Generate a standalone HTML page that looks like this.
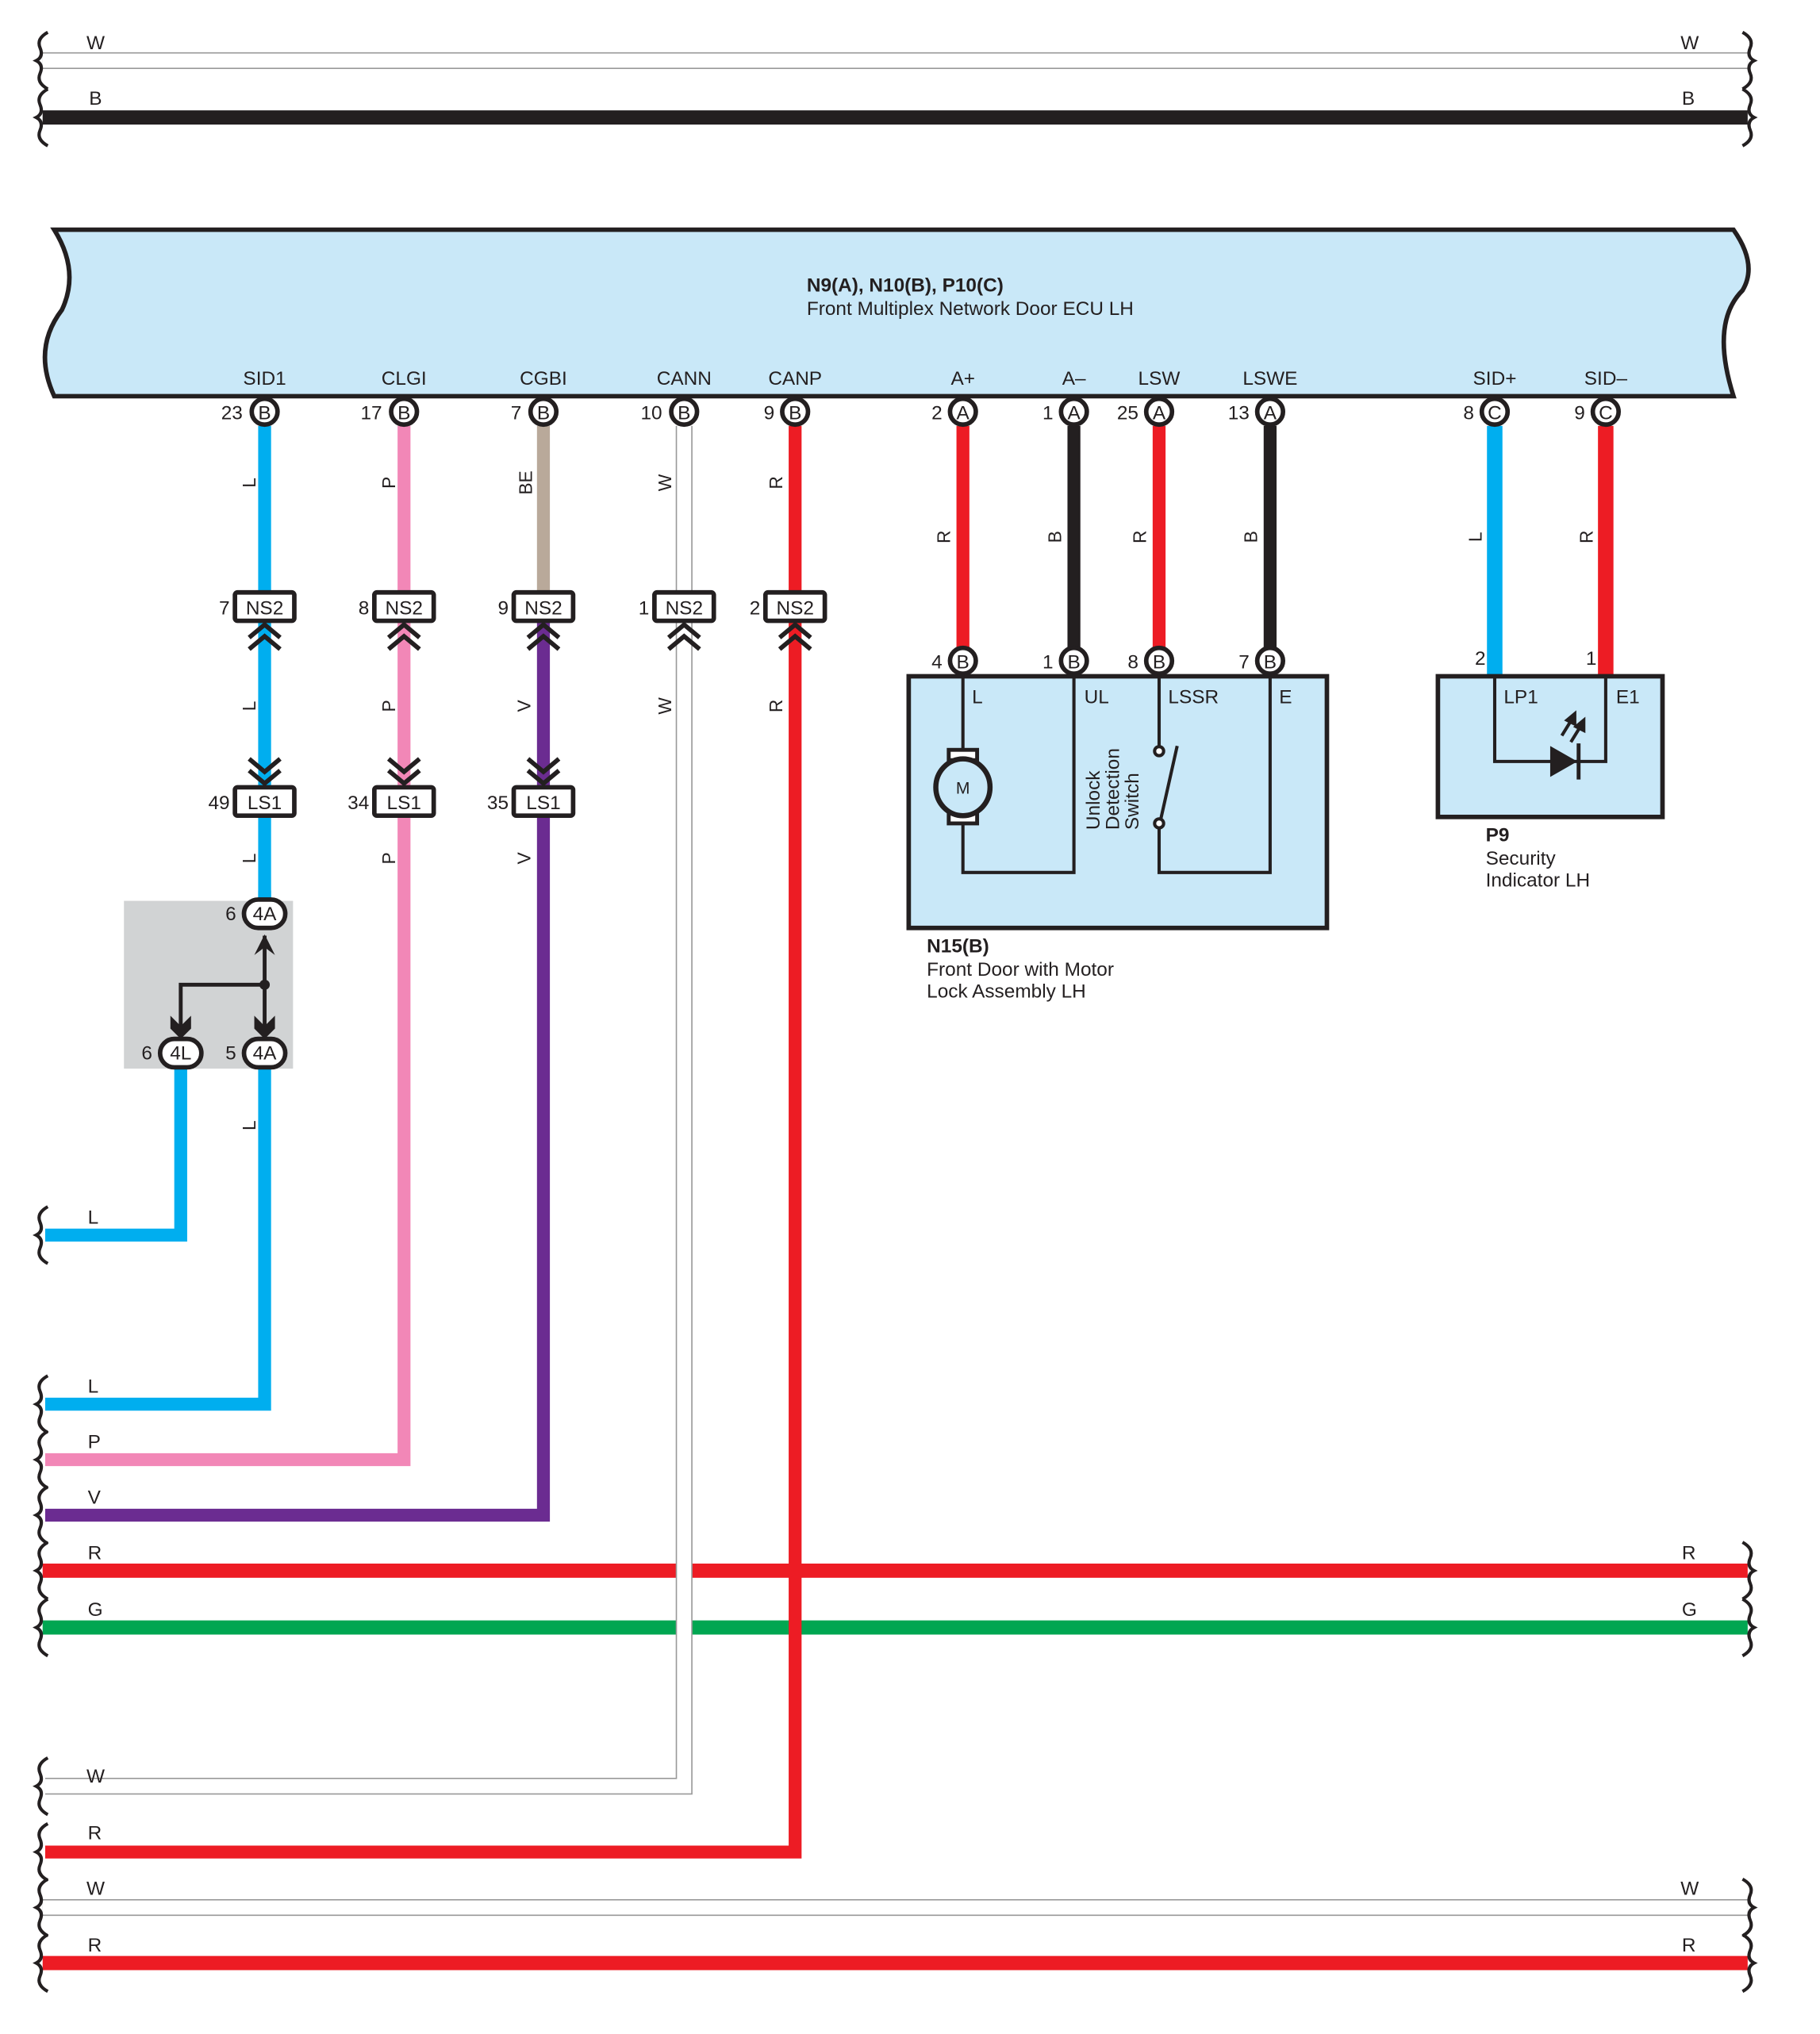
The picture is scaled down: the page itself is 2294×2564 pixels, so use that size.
<!DOCTYPE html>
<html><head><meta charset="utf-8"><style>
html,body{margin:0;padding:0;background:#fff}
svg{display:block}
text{font-family:"Liberation Sans",sans-serif;fill:#231f20}
</style></head><body>
<svg width="2294" height="2564" viewBox="0 0 1410 1576" xmlns="http://www.w3.org/2000/svg">
<defs>
<g id="brL"><path d="M37,-22 q-9,5 -6,12 q3,7 -3,10 q6,3 3,10 q-3,7 6,12" fill="none" stroke="#231f20" stroke-width="2.5"/></g>
<g id="brR"><path d="M1350,-22 q9,5 6,12 q-3,7 3,10 q-6,3 -3,10 q3,7 -6,12" fill="none" stroke="#231f20" stroke-width="2.5"/></g>
</defs>

<!-- Top W -->
<line x1="33" y1="47" x2="1354" y2="47" stroke="#999" stroke-width="13"/>
<line x1="33" y1="47" x2="1354" y2="47" stroke="#fff" stroke-width="11"/>
<use href="#brL" y="47"/><use href="#brR" y="47"/>
<text x="67" y="38" font-size="15">W</text><text x="1302" y="38" font-size="15">W</text>
<!-- B -->
<line x1="33" y1="91" x2="1354" y2="91" stroke="#231f20" stroke-width="11"/>
<use href="#brL" y="91"/><use href="#brR" y="91"/>
<text x="69" y="81" font-size="15">B</text><text x="1303" y="81" font-size="15">B</text>

<!-- ECU -->
<path d="M42,178 L1343,178 Q1362,205 1350,225 Q1325,250 1343,307 L42,307 Q25,270 48,240 Q62,210 42,178 Z" fill="#c9e8f8" stroke="#231f20" stroke-width="3.5"/>
<text x="625" y="226" font-size="15" font-weight="bold">N9(A), N10(B), P10(C)</text>
<text x="625" y="244" font-size="15">Front Multiplex Network Door ECU LH</text>

<!-- Horizontal R and G (drawn first so CANN/CANP cross on top) -->
<line x1="33" y1="1217" x2="1354" y2="1217" stroke="#ed1c24" stroke-width="11"/>
<line x1="33" y1="1261" x2="1354" y2="1261" stroke="#00a651" stroke-width="11"/>
<use href="#brL" y="1217"/><use href="#brR" y="1217"/>
<use href="#brL" y="1261"/><use href="#brR" y="1261"/>
<text x="68" y="1208" font-size="15">R</text><text x="1303" y="1208" font-size="15">R</text>
<text x="68" y="1252" font-size="15">G</text><text x="1303" y="1252" font-size="15">G</text>

<!-- SID1 blue -->
<polyline points="205,330 205,1088 35,1088" fill="none" stroke="#00aeef" stroke-width="10"/>
<polyline points="140,828 140,957 35,957" fill="none" stroke="#00aeef" stroke-width="10"/>
<!-- CLGI pink -->
<polyline points="313,330 313,1131 35,1131" fill="none" stroke="#f287b7" stroke-width="10"/>
<!-- CGBI -->
<line x1="421" y1="330" x2="421" y2="460" stroke="#b9a99a" stroke-width="10"/>
<polyline points="421,480 421,1174 35,1174" fill="none" stroke="#6b2c91" stroke-width="10"/>
<!-- CANN white -->
<polyline points="530,330 530,1384 35,1384" fill="none" stroke="#999" stroke-width="13"/>
<polyline points="530,330 530,1384 35,1384" fill="none" stroke="#fff" stroke-width="11"/>
<!-- CANP red -->
<polyline points="616,330 616,1435 35,1435" fill="none" stroke="#ed1c24" stroke-width="10"/>
<use href="#brL" y="1088"/><use href="#brL" y="957"/><use href="#brL" y="1131"/><use href="#brL" y="1174"/><use href="#brL" y="1384"/><use href="#brL" y="1435"/>
<text x="68" y="948" font-size="15">L</text>
<text x="68" y="1079" font-size="15">L</text>
<text x="68" y="1122" font-size="15">P</text>
<text x="68" y="1165" font-size="15">V</text>
<text x="67" y="1381" font-size="15">W</text>
<text x="68" y="1425" font-size="15">R</text>

<!-- Bottom W, R -->
<line x1="33" y1="1478" x2="1354" y2="1478" stroke="#999" stroke-width="13"/>
<line x1="33" y1="1478" x2="1354" y2="1478" stroke="#fff" stroke-width="11"/>
<line x1="33" y1="1521" x2="1354" y2="1521" stroke="#ed1c24" stroke-width="11"/>
<use href="#brL" y="1478"/><use href="#brR" y="1478"/><use href="#brL" y="1521"/><use href="#brR" y="1521"/>
<text x="67" y="1468" font-size="15">W</text><text x="1302" y="1468" font-size="15">W</text>
<text x="68" y="1512" font-size="15">R</text><text x="1303" y="1512" font-size="15">R</text>

<!-- right wires -->
<line x1="746" y1="330" x2="746" y2="502" stroke="#ed1c24" stroke-width="10"/>
<line x1="832" y1="330" x2="832" y2="502" stroke="#231f20" stroke-width="10"/>
<line x1="898" y1="330" x2="898" y2="502" stroke="#ed1c24" stroke-width="10"/>
<line x1="984" y1="330" x2="984" y2="502" stroke="#231f20" stroke-width="10"/>
<line x1="1158" y1="330" x2="1158" y2="524" stroke="#00aeef" stroke-width="12"/>
<line x1="1244" y1="330" x2="1244" y2="524" stroke="#ed1c24" stroke-width="12"/>

<!-- wire color labels (rotated) -->
<g font-size="14">
<text transform="translate(198,374) rotate(-90)" text-anchor="middle">L</text>
<text transform="translate(306,374) rotate(-90)" text-anchor="middle">P</text>
<text transform="translate(412,374) rotate(-90)" text-anchor="middle">BE</text>
<text transform="translate(520,374) rotate(-90)" text-anchor="middle">W</text>
<text transform="translate(606,374) rotate(-90)" text-anchor="middle">R</text>
<text transform="translate(736,416) rotate(-90)" text-anchor="middle">R</text>
<text transform="translate(822,416) rotate(-90)" text-anchor="middle">B</text>
<text transform="translate(888,416) rotate(-90)" text-anchor="middle">R</text>
<text transform="translate(974,416) rotate(-90)" text-anchor="middle">B</text>
<text transform="translate(1148,416) rotate(-90)" text-anchor="middle">L</text>
<text transform="translate(1234,416) rotate(-90)" text-anchor="middle">R</text>
<text transform="translate(198,547) rotate(-90)" text-anchor="middle">L</text>
<text transform="translate(306,547) rotate(-90)" text-anchor="middle">P</text>
<text transform="translate(411,547) rotate(-90)" text-anchor="middle">V</text>
<text transform="translate(520,547) rotate(-90)" text-anchor="middle">W</text>
<text transform="translate(606,547) rotate(-90)" text-anchor="middle">R</text>
<text transform="translate(198,665) rotate(-90)" text-anchor="middle">L</text>
<text transform="translate(306,665) rotate(-90)" text-anchor="middle">P</text>
<text transform="translate(411,665) rotate(-90)" text-anchor="middle">V</text>
<text transform="translate(198,872) rotate(-90)" text-anchor="middle">L</text>
</g>

<!-- ECU pin labels -->
<g font-size="15" text-anchor="middle">
<text x="205" y="298">SID1</text><text x="313" y="298">CLGI</text><text x="421" y="298">CGBI</text>
<text x="530" y="298">CANN</text><text x="616" y="298">CANP</text><text x="746" y="298">A+</text>
<text x="832" y="298">A–</text><text x="898" y="298">LSW</text><text x="984" y="298">LSWE</text>
<text x="1158" y="298">SID+</text><text x="1244" y="298">SID–</text>
</g>

<!-- Connector circles -->
<g font-size="15">
<g stroke="#231f20" stroke-width="3.5" fill="#fff">
<circle cx="205" cy="319" r="10"/><circle cx="313" cy="319" r="10"/><circle cx="421" cy="319" r="10"/>
<circle cx="530" cy="319" r="10"/><circle cx="616" cy="319" r="10"/><circle cx="746" cy="319" r="10"/>
<circle cx="832" cy="319" r="10"/><circle cx="898" cy="319" r="10"/><circle cx="984" cy="319" r="10"/>
<circle cx="1158" cy="319" r="10"/><circle cx="1244" cy="319" r="10"/>
<circle cx="746" cy="512" r="10"/><circle cx="832" cy="512" r="10"/><circle cx="898" cy="512" r="10"/><circle cx="984" cy="512" r="10"/>
</g>
<g text-anchor="middle">
<text x="205" y="325">B</text><text x="313" y="325">B</text><text x="421" y="325">B</text><text x="530" y="325">B</text><text x="616" y="325">B</text>
<text x="746" y="325">A</text><text x="832" y="325">A</text><text x="898" y="325">A</text><text x="984" y="325">A</text>
<text x="1158" y="325">C</text><text x="1244" y="325">C</text>
<text x="746" y="518">B</text><text x="832" y="518">B</text><text x="898" y="518">B</text><text x="984" y="518">B</text>
</g>
<g text-anchor="end">
<text x="188" y="325">23</text><text x="296" y="325">17</text><text x="404" y="325">7</text><text x="513" y="325">10</text><text x="600" y="325">9</text>
<text x="730" y="325">2</text><text x="816" y="325">1</text><text x="882" y="325">25</text><text x="968" y="325">13</text>
<text x="1142" y="325">8</text><text x="1228" y="325">9</text>
<text x="730" y="518">4</text><text x="816" y="518">1</text><text x="882" y="518">8</text><text x="968" y="518">7</text>
<text x="1151" y="515">2</text><text x="1237" y="515">1</text>
</g>
</g>

<!-- NS2 / LS1 connectors -->
<g font-size="15">
<g stroke="#231f20" stroke-width="3.5" fill="#fff">
<rect x="182" y="459" width="46" height="22" rx="2"/><rect x="290" y="459" width="46" height="22" rx="2"/><rect x="398" y="459" width="46" height="22" rx="2"/>
<rect x="507" y="459" width="46" height="22" rx="2"/><rect x="593" y="459" width="46" height="22" rx="2"/>
<rect x="182" y="610" width="46" height="22" rx="2"/><rect x="290" y="610" width="46" height="22" rx="2"/><rect x="398" y="610" width="46" height="22" rx="2"/>
</g>
<g text-anchor="middle">
<text x="205" y="476">NS2</text><text x="313" y="476">NS2</text><text x="421" y="476">NS2</text><text x="530" y="476">NS2</text><text x="616" y="476">NS2</text>
<text x="205" y="627">LS1</text><text x="313" y="627">LS1</text><text x="421" y="627">LS1</text>
</g>
<g text-anchor="end">
<text x="178" y="476">7</text><text x="286" y="476">8</text><text x="394" y="476">9</text><text x="503" y="476">1</text><text x="589" y="476">2</text>
<text x="178" y="627">49</text><text x="286" y="627">34</text><text x="394" y="627">35</text>
</g>
<!-- chevrons -->
<g fill="none" stroke="#231f20" stroke-width="3.5">
<path d="M193,494 l12,-10 l12,10 M193,503 l12,-10 l12,10"/>
<path d="M301,494 l12,-10 l12,10 M301,503 l12,-10 l12,10"/>
<path d="M409,494 l12,-10 l12,10 M409,503 l12,-10 l12,10"/>
<path d="M518,494 l12,-10 l12,10 M518,503 l12,-10 l12,10"/>
<path d="M604,494 l12,-10 l12,10 M604,503 l12,-10 l12,10"/>
<path d="M193,588 l12,10 l12,-10 M193,597 l12,10 l12,-10"/>
<path d="M301,588 l12,10 l12,-10 M301,597 l12,10 l12,-10"/>
<path d="M409,588 l12,10 l12,-10 M409,597 l12,10 l12,-10"/>
</g>
</g>

<!-- Splice box -->
<rect x="96" y="698" width="131" height="130" fill="#d1d3d4"/>
<line x1="205" y1="690" x2="205" y2="698" stroke="#00aeef" stroke-width="10"/>
<g stroke="#231f20" stroke-width="3" fill="none">
<polyline points="205,725 205,800"/>
<polyline points="205,763 140,763 140,800"/>
</g>
<circle cx="205" cy="763" r="4" fill="#231f20"/>
<g fill="#231f20">
<path d="M197,740 L205,724 L213,740 L205,734 Z"/>
<path d="M132,787 L140,795 L148,787 L148,797 L140,805 L132,797 Z"/>
<path d="M197,787 L205,795 L213,787 L213,797 L205,805 L197,797 Z"/>
</g>
<g stroke="#231f20" stroke-width="3.5" fill="#fff">
<rect x="189" y="697" width="32" height="22" rx="11"/>
<rect x="189" y="805" width="32" height="22" rx="11"/>
<rect x="124" y="805" width="32" height="22" rx="11"/>
</g>
<g font-size="15">
<text x="205" y="713" text-anchor="middle">4A</text><text x="205" y="821" text-anchor="middle">4A</text><text x="140" y="821" text-anchor="middle">4L</text>
<text x="183" y="713" text-anchor="end">6</text><text x="183" y="821" text-anchor="end">5</text><text x="118" y="821" text-anchor="end">6</text>
</g>

<!-- N15 box -->
<rect x="704" y="524" width="324" height="195" fill="#c9e8f8" stroke="#231f20" stroke-width="3.5"/>
<g stroke="#231f20" stroke-width="2.5" fill="none">
<polyline points="746,522 746,585"/>
<polyline points="746,635 746,676 832,676 832,522"/>
<polyline points="898,522 898,578"/>
<polyline points="898,640 898,676 984,676 984,522"/>
<line x1="899" y1="636" x2="912" y2="578"/>
</g>
<circle cx="898" cy="582" r="3.5" fill="#fff" stroke="#231f20" stroke-width="2.5"/>
<circle cx="898" cy="638" r="3.5" fill="#fff" stroke="#231f20" stroke-width="2.5"/>
<rect x="735" y="581" width="22" height="8" fill="#fff" stroke="#231f20" stroke-width="3"/>
<rect x="735" y="630" width="22" height="8" fill="#fff" stroke="#231f20" stroke-width="3"/>
<ellipse cx="746" cy="610" rx="21" ry="22" fill="#c9e8f8" stroke="#231f20" stroke-width="4"/>
<text x="746" y="615" font-size="13" text-anchor="middle">M</text>
<g font-size="15">
<text x="753" y="545">L</text><text x="840" y="545">UL</text><text x="905" y="545">LSSR</text><text x="991" y="545">E</text>
</g>
<g font-size="15" transform="translate(852,643) rotate(-90)">
<text x="0" y="0">Unlock</text><text x="0" y="15">Detection</text><text x="0" y="30">Switch</text>
</g>
<text x="718" y="738" font-size="15" font-weight="bold">N15(B)</text>
<text x="718" y="756" font-size="15">Front Door with Motor</text>
<text x="718" y="773" font-size="15">Lock Assembly LH</text>

<!-- P9 -->
<rect x="1114" y="524" width="174" height="109" fill="#c9e8f8" stroke="#231f20" stroke-width="3.5"/>
<polyline points="1158,524 1158,590 1244,590 1244,524" fill="none" stroke="#231f20" stroke-width="2.5"/>
<path d="M1201,578 L1222,590 L1201,602 Z" fill="#231f20"/>
<line x1="1223" y1="576" x2="1223" y2="604" stroke="#231f20" stroke-width="3"/>
<g stroke="#231f20" stroke-width="2.5" fill="#231f20">
<line x1="1210" y1="570" x2="1218" y2="557"/><path d="M1220,553 L1214,558 L1220,561 Z"/>
<line x1="1217" y1="575" x2="1225" y2="562"/><path d="M1227,558 L1221,563 L1227,566 Z"/>
</g>
<text x="1165" y="545" font-size="15">LP1</text><text x="1252" y="545" font-size="15">E1</text>
<text x="1151" y="652" font-size="15" font-weight="bold">P9</text>
<text x="1151" y="670" font-size="15">Security</text>
<text x="1151" y="687" font-size="15">Indicator LH</text>
</svg>
</body></html>
